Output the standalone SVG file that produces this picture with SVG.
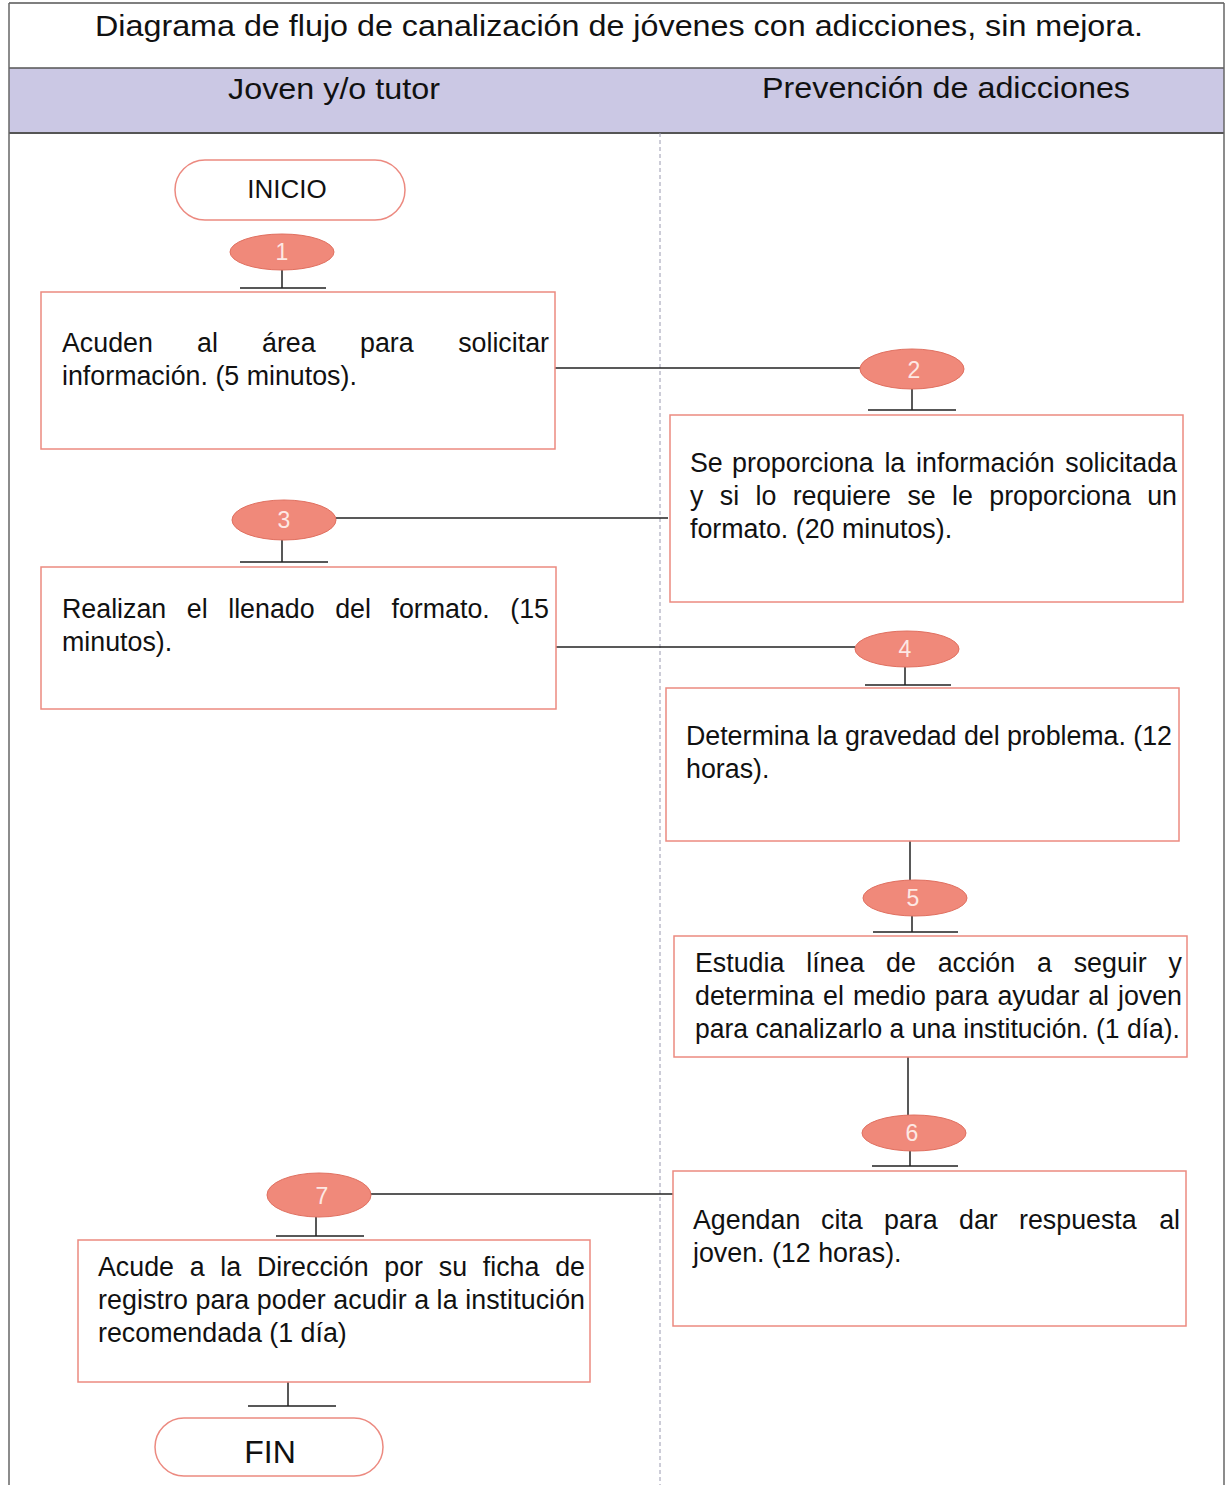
<svg xmlns="http://www.w3.org/2000/svg" width="1226" height="1485" viewBox="0 0 1226 1485">
<style>
.t{font-family:"Liberation Sans",Arial,sans-serif;fill:#111}
.body{font-size:26.8px}
.box{fill:#fff;stroke:#ec8a80;stroke-width:1.5}
.term{fill:#fff;stroke:#ec8a80;stroke-width:1.5}
.num{fill:#f0897a;stroke:#e07060;stroke-width:1}
.nt{font-family:"Liberation Sans",Arial,sans-serif;font-size:23px;fill:#fde8e4;text-anchor:middle}
.ln{stroke:#222;stroke-width:1.5;fill:none}
.e{text-anchor:end}
</style>
<rect width="1226" height="1485" fill="#fff"/>
<g id="frame">
<rect x="9" y="68" width="1215" height="65" fill="#cbc8e4"/>
<line x1="9" y1="3" x2="1224" y2="3" stroke="#555" stroke-width="1.5"/>
<line x1="9" y1="68" x2="1224" y2="68" stroke="#555" stroke-width="1.5"/>
<line x1="9" y1="133" x2="1224" y2="133" stroke="#555" stroke-width="2"/>
<line x1="9" y1="3" x2="9" y2="1485" stroke="#666" stroke-width="1.5"/>
<line x1="1224" y1="3" x2="1224" y2="1485" stroke="#666" stroke-width="1.5"/>
<line x1="660" y1="133" x2="660" y2="1485" stroke="#9a9ab0" stroke-width="1" stroke-dasharray="4,3"/>
<text class="t" x="95" y="36" font-size="29" textLength="1048" lengthAdjust="spacingAndGlyphs">Diagrama de flujo de canalización de jóvenes con adicciones, sin mejora.</text>
<text class="t" x="228" y="99" font-size="29" textLength="212" lengthAdjust="spacingAndGlyphs">Joven y/o tutor</text>
<text class="t" x="762" y="98" font-size="29" textLength="368" lengthAdjust="spacingAndGlyphs">Prevención de adicciones</text>
</g>
<g id="connectors">
<path class="ln" d="M282 270V288M240 288H326"/>
<path class="ln" d="M555 368H860"/>
<path class="ln" d="M912 389V410M868 410H956"/>
<path class="ln" d="M336 518H668"/>
<path class="ln" d="M282 540V562M240 562H328"/>
<path class="ln" d="M556 647H855"/>
<path class="ln" d="M905 667V685M865 685H951"/>
<path class="ln" d="M910 841V880"/>
<path class="ln" d="M912 916V932M873 932H958"/>
<path class="ln" d="M908 1057V1115"/>
<path class="ln" d="M910 1151V1166M872 1166H958"/>
<path class="ln" d="M371 1194H673"/>
<path class="ln" d="M316 1217V1236M276 1236H364"/>
<path class="ln" d="M288 1382V1406M248 1406H336"/>
</g>
<g id="inicio">
<rect class="term" x="175" y="160" width="230" height="60" rx="30"/>
<text class="t" x="287" y="198" font-size="26" text-anchor="middle">INICIO</text>
</g>
<g id="n1"><ellipse class="num" cx="282" cy="252" rx="52" ry="18"/><text class="nt" x="282" y="260">1</text></g>
<g id="step1">
<rect class="box" x="41" y="292" width="514" height="157"/>
<text class="t body" y="352"><tspan x="62">Acuden</tspan><tspan x="197">al</tspan><tspan x="262">área</tspan><tspan x="360">para</tspan><tspan x="549" class="e">solicitar</tspan></text>
<text class="t body" x="62" y="385">información. (5 minutos).</text>
</g>
<g id="n2"><ellipse class="num" cx="912" cy="369" rx="52" ry="20"/><text class="nt" x="914" y="378">2</text></g>
<g id="step2">
<rect class="box" x="670" y="415" width="513" height="187"/>
<text class="t body" y="472"><tspan x="690">Se</tspan><tspan x="732.1">proporciona</tspan><tspan x="884.4">la</tspan><tspan x="916.1">información</tspan><tspan x="1177" class="e">solicitada</tspan></text>
<text class="t body" y="505"><tspan x="690">y</tspan><tspan x="719.8">si</tspan><tspan x="755.5">lo</tspan><tspan x="792.7">requiere</tspan><tspan x="907.4">se</tspan><tspan x="952.1">le</tspan><tspan x="989.3">proporciona</tspan><tspan x="1177" class="e">un</tspan></text>
<text class="t body" x="690" y="538">formato. (20 minutos).</text>
</g>
<g id="n3"><ellipse class="num" cx="284" cy="520" rx="52" ry="20"/><text class="nt" x="284" y="528">3</text></g>
<g id="step3">
<rect class="box" x="41" y="567" width="515" height="142"/>
<text class="t body" y="618"><tspan x="62">Realizan</tspan><tspan x="186.8">el</tspan><tspan x="228.2">llenado</tspan><tspan x="335.2">del</tspan><tspan x="391.5">formato.</tspan><tspan x="549" class="e">(15</tspan></text>
<text class="t body" x="62" y="651">minutos).</text>
</g>
<g id="n4"><ellipse class="num" cx="907" cy="649" rx="52" ry="18"/><text class="nt" x="905" y="657">4</text></g>
<g id="step4">
<rect class="box" x="666" y="688" width="513" height="153"/>
<text class="t body" x="686" y="745" textLength="486" lengthAdjust="spacing">Determina la gravedad del problema. (12</text>
<text class="t body" x="686" y="778">horas).</text>
</g>
<g id="n5"><ellipse class="num" cx="915" cy="898" rx="52" ry="18"/><text class="nt" x="913" y="906">5</text></g>
<g id="step5">
<rect class="box" x="674" y="936" width="513" height="121"/>
<text class="t body" y="972"><tspan x="695">Estudia</tspan><tspan x="806.2">línea</tspan><tspan x="886.1">de</tspan><tspan x="937.7">acción</tspan><tspan x="1037">a</tspan><tspan x="1073.7">seguir</tspan><tspan x="1182" class="e">y</tspan></text>
<text class="t body" y="1005"><tspan x="695">determina</tspan><tspan x="823.1">el</tspan><tspan x="852.9">medio</tspan><tspan x="934.8">para</tspan><tspan x="997.4">ayudar</tspan><tspan x="1088.2">al</tspan><tspan x="1182" class="e">joven</tspan></text>
<text class="t body" x="695" y="1038" textLength="485" lengthAdjust="spacingAndGlyphs">para canalizarlo a una institución. (1 día).</text>
</g>
<g id="n6"><ellipse class="num" cx="914" cy="1133" rx="52" ry="18"/><text class="nt" x="912" y="1141">6</text></g>
<g id="step6">
<rect class="box" x="673" y="1171" width="513" height="155"/>
<text class="t body" y="1229"><tspan x="693">Agendan</tspan><tspan x="821">cita</tspan><tspan x="884">para</tspan><tspan x="959">dar</tspan><tspan x="1019">respuesta</tspan><tspan x="1180" class="e">al</tspan></text>
<text class="t body" x="693" y="1262">joven. (12 horas).</text>
</g>
<g id="n7"><ellipse class="num" cx="319" cy="1195" rx="52" ry="22"/><text class="nt" x="322" y="1204">7</text></g>
<g id="step7">
<rect class="box" x="78" y="1240" width="512" height="142"/>
<text class="t body" y="1276"><tspan x="98">Acude</tspan><tspan x="189.7">a</tspan><tspan x="220.3">la</tspan><tspan x="256.9">Dirección</tspan><tspan x="384.3">por</tspan><tspan x="438.8">su</tspan><tspan x="482.8">ficha</tspan><tspan x="585" class="e">de</tspan></text>
<text class="t body" x="98" y="1309" textLength="487" lengthAdjust="spacing">registro para poder acudir a la institución</text>
<text class="t body" x="98" y="1342">recomendada (1 día)</text>
</g>
<g id="fin">
<rect class="term" x="155" y="1418" width="228" height="58" rx="29"/>
<text class="t" x="270" y="1463" font-size="32" text-anchor="middle">FIN</text>
</g>
</svg>
